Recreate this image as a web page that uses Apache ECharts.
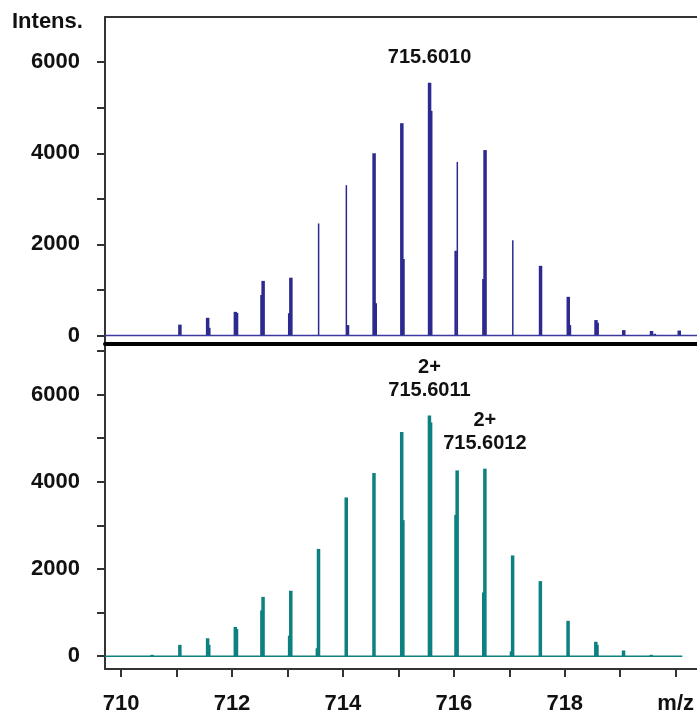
<!DOCTYPE html>
<html>
<head>
<meta charset="utf-8">
<title>Isotope pattern</title>
<script src="https://cdn.jsdelivr.net/npm/echarts@6/dist/echarts.min.js"></script>
<style>
  html, body { margin: 0; padding: 0; background: #fff; }
  #chart { width: 697px; height: 715px; }
</style>
</head>
<body>
<div id="chart"></div>
<script>
// m/z range shown on both panels
var xMin = 709.71
var xMax = 720.38
var xTicks = [710, 711, 712, 713, 714, 715, 716, 717, 718, 719, 720]
var xLabels = [710, 712, 714, 716, 718, 720]

// upper panel (measured)
var topMz = [711.06, 711.56, 712.06, 712.56, 713.06, 713.56, 714.06, 714.56, 715.06, 715.56,
  716.06, 716.56, 717.06, 717.56, 718.06, 718.56, 719.06, 719.56, 720.06]
var topInt = [240, 390, 520, 1200, 1270, 2460, 3300, 4000, 4660, 5550,
  3810, 4070, 2090, 1530, 850, 340, 120, 100, 110]
var topShoulderMz = [711.59, 712.09, 712.53, 713.03, 714.09, 714.59, 715.09, 715.59, 716.03, 716.53, 718.09, 718.59, 719.62]
var topShoulderInt = [170, 495, 890, 490, 230, 710, 1680, 4930, 1860, 1240, 230, 280, 40]
var topThin = [713.56, 714.06, 716.06, 717.06]
var topTicks = [0, 1000, 2000, 3000, 4000, 5000, 6000]
var topTickLabels = [0, 2000, 4000, 6000]

// lower panel (simulated)
var botMz = [710.56, 711.06, 711.56, 712.06, 712.56, 713.06, 713.56, 714.06, 714.56, 715.06,
  715.56, 716.06, 716.56, 717.06, 717.56, 718.06, 718.56, 719.06, 719.56]
var botInt = [30, 260, 410, 670, 1360, 1500, 2460, 3640, 4200, 5140,
  5520, 4260, 4300, 2310, 1720, 810, 330, 130, 30]
var botShoulderMz = [711.59, 712.09, 712.53, 713.03, 713.53, 715.09, 715.59, 716.03, 716.53, 717.03, 718.59]
var botShoulderInt = [260, 620, 1050, 470, 180, 3120, 5360, 3240, 1460, 110, 260]
var botEnd = 720.12
var botTicks = [0, 1000, 2000, 3000, 4000, 5000, 6000, 7000]
var botTickLabels = [0, 2000, 4000, 6000]

// peak annotations
var topNotes = [[715.56, 5550, '715.6010']]
var botNotes = [[715.56, 5520, '2+\n715.6011'], [716.56, 4300, '2+\n715.6012']]

var BLUE = '#2d2a8f'
var TEAL = '#0d8080'
var AXIS = '#333'
var FONT = 'Liberation Sans, Arial, sans-serif'

function pairs(xs, ys) {
  return xs.map(function(x, i) { return [x, ys[i]] })
}

function stickRenderer(color, thinList, baseWidth) {
  return function(params, api) {
    var mz = api.value(0)
    var p0 = api.coord([mz, 0])
    var p1 = api.coord([mz, api.value(1)])
    var w = thinList.indexOf(mz) >= 0 ? 1.5 : baseWidth
    return {
      type: 'rect',
      shape: { x: p0[0] - w / 2, y: p1[1], width: w, height: p0[1] - p1[1] },
      style: { fill: color }
    }
  }
}

function noteLabel() {
  return {
    show: true,
    position: 'top',
    distance: 14,
    formatter: function(p) { return p.data.note },
    color: '#111',
    fontFamily: FONT,
    fontWeight: 'bold',
    fontSize: 20,
    lineHeight: 23
  }
}

function notePoints(list) {
  return list.map(function(n) {
    return { coord: [n[0], n[1]], note: n[2] }
  })
}

var labelStyle = {
  color: '#111',
  fontFamily: FONT,
  fontWeight: 'bold',
  fontSize: 22
}

function yAxisFor(grid, min, max, ticks, labels) {
  return {
    type: 'value',
    gridIndex: grid,
    min: min,
    max: max,
    splitLine: { show: false },
    axisLine: { show: true, lineStyle: { color: AXIS, width: 2 } },
    axisTick: { show: true, inside: false, length: 8, customValues: ticks, lineStyle: { color: AXIS, width: 2 } },
    axisLabel: Object.assign({
      margin: 25,
      customValues: labels,
      formatter: function(v) { return String(v) }
    }, labelStyle)
  }
}

var chart = echarts.init(document.getElementById('chart'))
chart.setOption({
  animation: false,
  backgroundColor: '#fff',
  grid: [
    { left: 105, right: 0, top: 17, height: 327 },
    { left: 105, right: 0, top: 344, height: 328 }
  ],
  graphic: [{
    type: 'text',
    left: 12,
    top: 11,
    style: { text: 'Intens.', fill: '#111', font: 'bold 22px ' + FONT }
  }],
  xAxis: [
    {
      type: 'value', gridIndex: 0, position: 'top', min: xMin, max: xMax,
      splitLine: { show: false },
      axisLine: { show: true, onZero: false, lineStyle: { color: AXIS, width: 2 } },
      axisTick: { show: false }, axisLabel: { show: false }
    },
    {
      type: 'value', gridIndex: 1, position: 'bottom', min: xMin, max: xMax,
      splitLine: { show: false },
      axisLine: { show: true, onZero: false, lineStyle: { color: AXIS, width: 2 } },
      axisTick: { show: true, length: 8, customValues: xTicks, lineStyle: { color: AXIS, width: 2 } },
      axisLabel: Object.assign({
        margin: 24,
        customValues: xLabels,
        formatter: function(v) { return v === 720 ? 'm/z' : String(v) }
      }, labelStyle)
    },
    {
      type: 'value', gridIndex: 1, position: 'top', min: xMin, max: xMax,
      splitLine: { show: false },
      axisLine: { show: true, onZero: false, lineStyle: { color: '#000', width: 4 } },
      axisTick: { show: false }, axisLabel: { show: false }
    }
  ],
  yAxis: [
    yAxisFor(0, -185, 6990, topTicks, topTickLabels),
    yAxisFor(1, -295, 7160, botTicks, botTickLabels)
  ],
  series: [
    {
      type: 'line', xAxisIndex: 0, yAxisIndex: 0, symbol: 'none',
      lineStyle: { color: '#3b38a0', width: 1.5 },
      data: [[xMin, 0], [xMax, 0]]
    },
    {
      type: 'custom', xAxisIndex: 0, yAxisIndex: 0, clip: true,
      renderItem: stickRenderer(BLUE, [], 2.5),
      data: pairs(topShoulderMz, topShoulderInt)
    },
    {
      type: 'custom', xAxisIndex: 0, yAxisIndex: 0, clip: true,
      renderItem: stickRenderer(BLUE, topThin, 3.5),
      data: pairs(topMz, topInt),
      markPoint: { symbol: 'circle', symbolSize: 0, label: noteLabel(), data: notePoints(topNotes) }
    },
    {
      type: 'line', xAxisIndex: 1, yAxisIndex: 1, symbol: 'none',
      lineStyle: { color: TEAL, width: 1.5 },
      data: [[xMin, 0], [botEnd, 0]]
    },
    {
      type: 'custom', xAxisIndex: 1, yAxisIndex: 1, clip: true,
      renderItem: stickRenderer(TEAL, [], 2.5),
      data: pairs(botShoulderMz, botShoulderInt)
    },
    {
      type: 'custom', xAxisIndex: 1, yAxisIndex: 1, clip: true,
      renderItem: stickRenderer(TEAL, [], 3.5),
      data: pairs(botMz, botInt),
      markPoint: { symbol: 'circle', symbolSize: 0, label: noteLabel(), data: notePoints(botNotes) }
    }
  ]
})
</script>
</body>
</html>
